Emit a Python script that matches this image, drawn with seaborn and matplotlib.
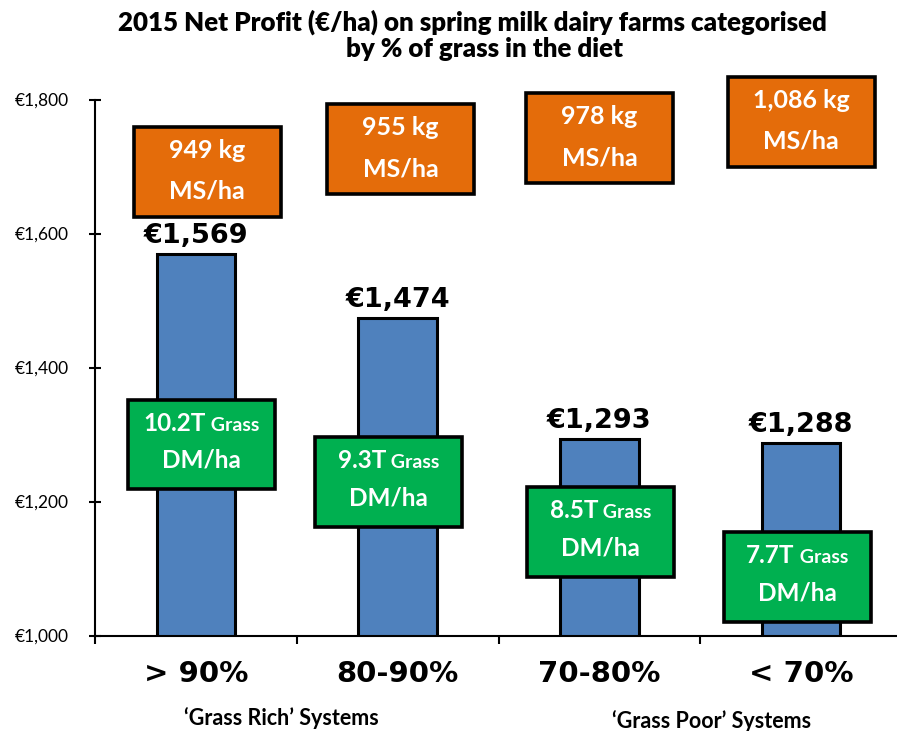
import matplotlib
matplotlib.use("Agg")
import matplotlib.pyplot as plt
from matplotlib.patches import Rectangle
from matplotlib.ticker import FuncFormatter
import seaborn as sns

categories = ["> 90%", "80-90%", "70-80%", "< 70%"]
net_profit = [1569, 1474, 1293, 1288]
milk_solids = ["949 kg", "955 kg", "978 kg", "1,086 kg"]
grass_grown = ["10.2T", "9.3T", "8.5T", "7.7T"]
group_labels = ["\u2018Grass Rich\u2019 Systems", "\u2018Grass Poor\u2019 Systems"]

# callout box placement: shift from category centre, centre height in euro
ms_box_dx = [0.057, 0.015, 0.0, 0.0]
ms_box_y = [1692, 1726, 1742, 1767]
grass_box_dx = [0.027, -0.045, 0.007, -0.02]
grass_box_y = [1285, 1229, 1154, 1087]
box_w, box_h = 0.728, 134

BLUE = "#4F81BD"
ORANGE = "#E46C0A"
GREEN = "#00B050"

sns.set_style("white")
plt.rcParams["font.family"] = ["Lato", "DejaVu Sans"]
plt.rcParams["text.color"] = "black"
plt.rcParams["xtick.color"] = "black"
plt.rcParams["ytick.color"] = "black"

fig = plt.figure(figsize=(8.97, 7.31), dpi=100)
ax = fig.add_axes([95 / 897, 95.5 / 731, 807 / 897, 536 / 731])

sns.barplot(x=categories, y=net_profit, color=BLUE, saturation=1, width=0.39,
            edgecolor="black", linewidth=2.2, ax=ax, zorder=2)

ax.set_xlim(-0.5, 3.5)
ax.set_ylim(1000, 1800)
ax.set_xlabel("")
ax.set_ylabel("")
for s in ["top", "right"]:
    ax.spines[s].set_visible(False)
for s in ["left", "bottom"]:
    ax.spines[s].set_color("black")
    ax.spines[s].set_linewidth(1.5)

# y axis
ax.set_yticks([1000, 1200, 1400, 1600, 1800])
ax.yaxis.set_major_formatter(FuncFormatter(lambda v, p: f"\u20ac{v:,.0f}"))
ax.tick_params(axis="y", left=True, direction="inout", length=8, width=1.5,
               labelsize=12.5, labelcolor="black", pad=15)

# x axis
ax.set_xticks(range(len(categories)))
ax.set_xticklabels(categories, fontfamily="DejaVu Sans", fontweight="bold", fontsize=21)
ax.set_xticks([-0.5, 0.5, 1.5, 2.5, 3.5], minor=True)
ax.tick_params(axis="x", which="major", bottom=False, length=0, pad=18,
               labelcolor="black")
ax.tick_params(axis="x", which="minor", bottom=True, direction="out", length=6,
               width=1.5)

# value labels above bars
for i, v in enumerate(net_profit):
    ax.annotate(f"\u20ac{v:,}", xy=(i, v), xytext=(0, 11), textcoords="offset pixels",
                ha="center", va="baseline", fontfamily="DejaVu Sans",
                fontweight="bold", fontsize=19.5, color="black", zorder=5)

# orange milk solids boxes
for i, lab in enumerate(milk_solids):
    cx, cy = i + ms_box_dx[i], ms_box_y[i]
    ax.add_patch(Rectangle((cx - box_w / 2, cy - box_h / 2), box_w, box_h,
                           facecolor=ORANGE, edgecolor="black", linewidth=2.6,
                           zorder=6, clip_on=False))
    ax.annotate(lab, xy=(cx, cy), xytext=(0, 14), textcoords="offset pixels",
                ha="center", va="baseline", color="white", fontweight="bold",
                fontsize=18, zorder=7)
    ax.annotate("MS/ha", xy=(cx, cy), xytext=(0, -27), textcoords="offset pixels",
                ha="center", va="baseline", color="white", fontweight="bold",
                fontsize=18, zorder=7)

# green grass boxes
pairs = []
for i, lab in enumerate(grass_grown):
    cx, cy = i + grass_box_dx[i], grass_box_y[i]
    ax.add_patch(Rectangle((cx - box_w / 2, cy - box_h / 2), box_w, box_h,
                           facecolor=GREEN, edgecolor="black", linewidth=2.6,
                           zorder=6))
    t1 = ax.annotate(lab, xy=(cx, cy), xytext=(0, 14), textcoords="offset pixels",
                     ha="left", va="baseline", color="white", fontweight="bold",
                     fontsize=17.5, zorder=7)
    t2 = ax.annotate(" Grass", xy=(cx, cy), xytext=(0, 14), textcoords="offset pixels",
                     ha="left", va="baseline", color="white", fontweight="bold",
                     fontsize=14, zorder=7)
    ax.annotate("DM/ha", xy=(cx, cy), xytext=(0, -23), textcoords="offset pixels",
                ha="center", va="baseline", color="white", fontweight="bold",
                fontsize=17.5, zorder=7)
    pairs.append((t1, t2))

# centre the mixed-size first line of each green box
fig.canvas.draw()
r = fig.canvas.get_renderer()
for t1, t2 in pairs:
    w1 = t1.get_window_extent(r).width
    w2 = t2.get_window_extent(r).width
    start = -(w1 + w2) / 2
    t1.xyann = (start, 14)
    t2.xyann = (start + w1, 14)

# title
fig.text(472 / 897, 1 - 31 / 731,
         "2015 Net Profit (\u20ac/ha) on spring milk dairy farms categorised",
         ha="center", va="baseline", fontweight="heavy", fontsize=18.6)
fig.text(484 / 897, 1 - 57 / 731, "by % of grass in the diet",
         ha="center", va="baseline", fontweight="heavy", fontsize=18.6)

# group notes under the axis
fig.text(281 / 897, 1 - 725 / 731, group_labels[0], ha="center", va="baseline",
         fontweight="bold", fontsize=15.5)
fig.text(712 / 897, 1 - 728 / 731, group_labels[1], ha="center", va="baseline",
         fontweight="bold", fontsize=15.5)

fig.savefig("out.png", dpi=100)
